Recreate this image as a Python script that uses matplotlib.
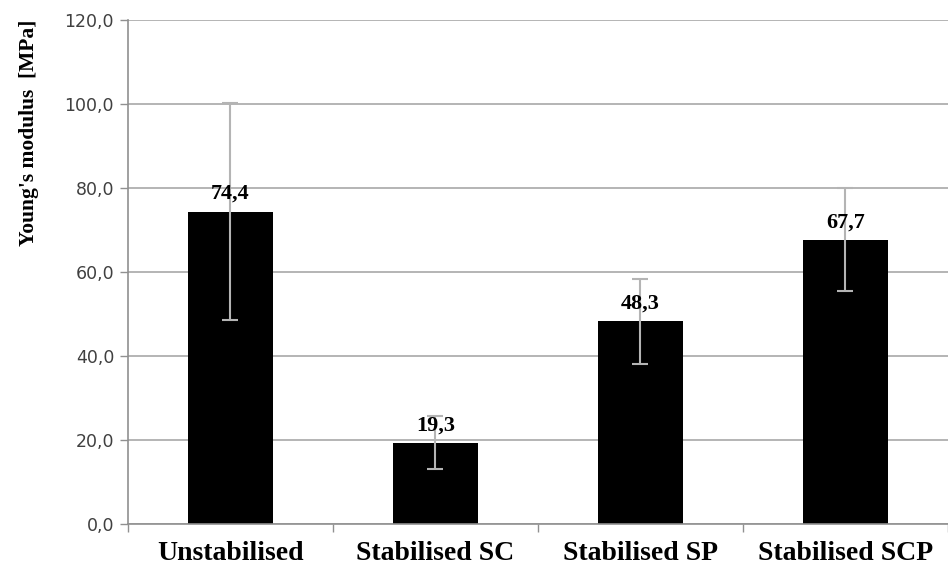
import numpy as np
import matplotlib.pyplot as plt

categorias = ["Unstabilised", "Stabilised SC", "Stabilised SP", "Stabilised SCP"]
modulo = [74.4, 19.3, 48.3, 67.7]
error = [25.8, 6.3, 10.1, 12.3]
yticks = [0, 20, 40, 60, 80, 100, 120]

fig = plt.figure(figsize=(9.48, 5.71), dpi=100)
ax = fig.add_axes([0.135, 0.0823, 0.865, 0.8827])

x = np.arange(len(categorias))
ax.bar(x, modulo, width=0.41, color='black', zorder=2)
ax.errorbar(x, modulo, yerr=error, fmt='none', ecolor='#b4b4b4', elinewidth=1.5,
            capsize=6, capthick=1.5, zorder=3)

for xi, v in zip(x, modulo):
    ax.text(xi, v + 1.8, f"{v:.1f}".replace('.', ','), ha='center', va='bottom',
            fontsize=16, fontweight='bold', family='Liberation Serif', zorder=4)

ax.set_xlim(-0.5, len(categorias) - 0.5)
ax.set_ylim(0, 120)
ax.set_yticks(yticks)
ax.set_yticklabels([f"{t:.1f}".replace('.', ',') for t in yticks],
                   fontsize=12.5, color='#404040', family='DejaVu Sans')
ax.set_xticks(x)
ax.set_xticklabels(categorias, fontsize=20, fontweight='bold', family='Liberation Serif')
# marcas entre categorías
ax.set_xticks(np.arange(-0.5, len(categorias)), minor=True)
ax.tick_params(axis='x', which='major', length=0, pad=12)
ax.tick_params(axis='x', which='minor', length=6, color='#909090', width=1)
ax.tick_params(axis='y', length=6, color='#909090', width=1, pad=4)

ax.yaxis.grid(True, color='#a8a8a8', linewidth=1.2, zorder=0)
ax.set_axisbelow(True)
for s in ['top', 'right']:
    ax.spines[s].set_visible(False)
for s in ['left', 'bottom']:
    ax.spines[s].set_color('#909090')
    ax.spines[s].set_linewidth(1.2)

# el título del eje va desplazado hacia arriba, como en el original
fig.text(29 / 948, 1 - 133 / 571, "Young's modulus  [MPa]", rotation=90,
         ha='center', va='center', fontsize=15.5, fontweight='bold',
         family='Liberation Serif')

fig.savefig('out.png', dpi=100)
